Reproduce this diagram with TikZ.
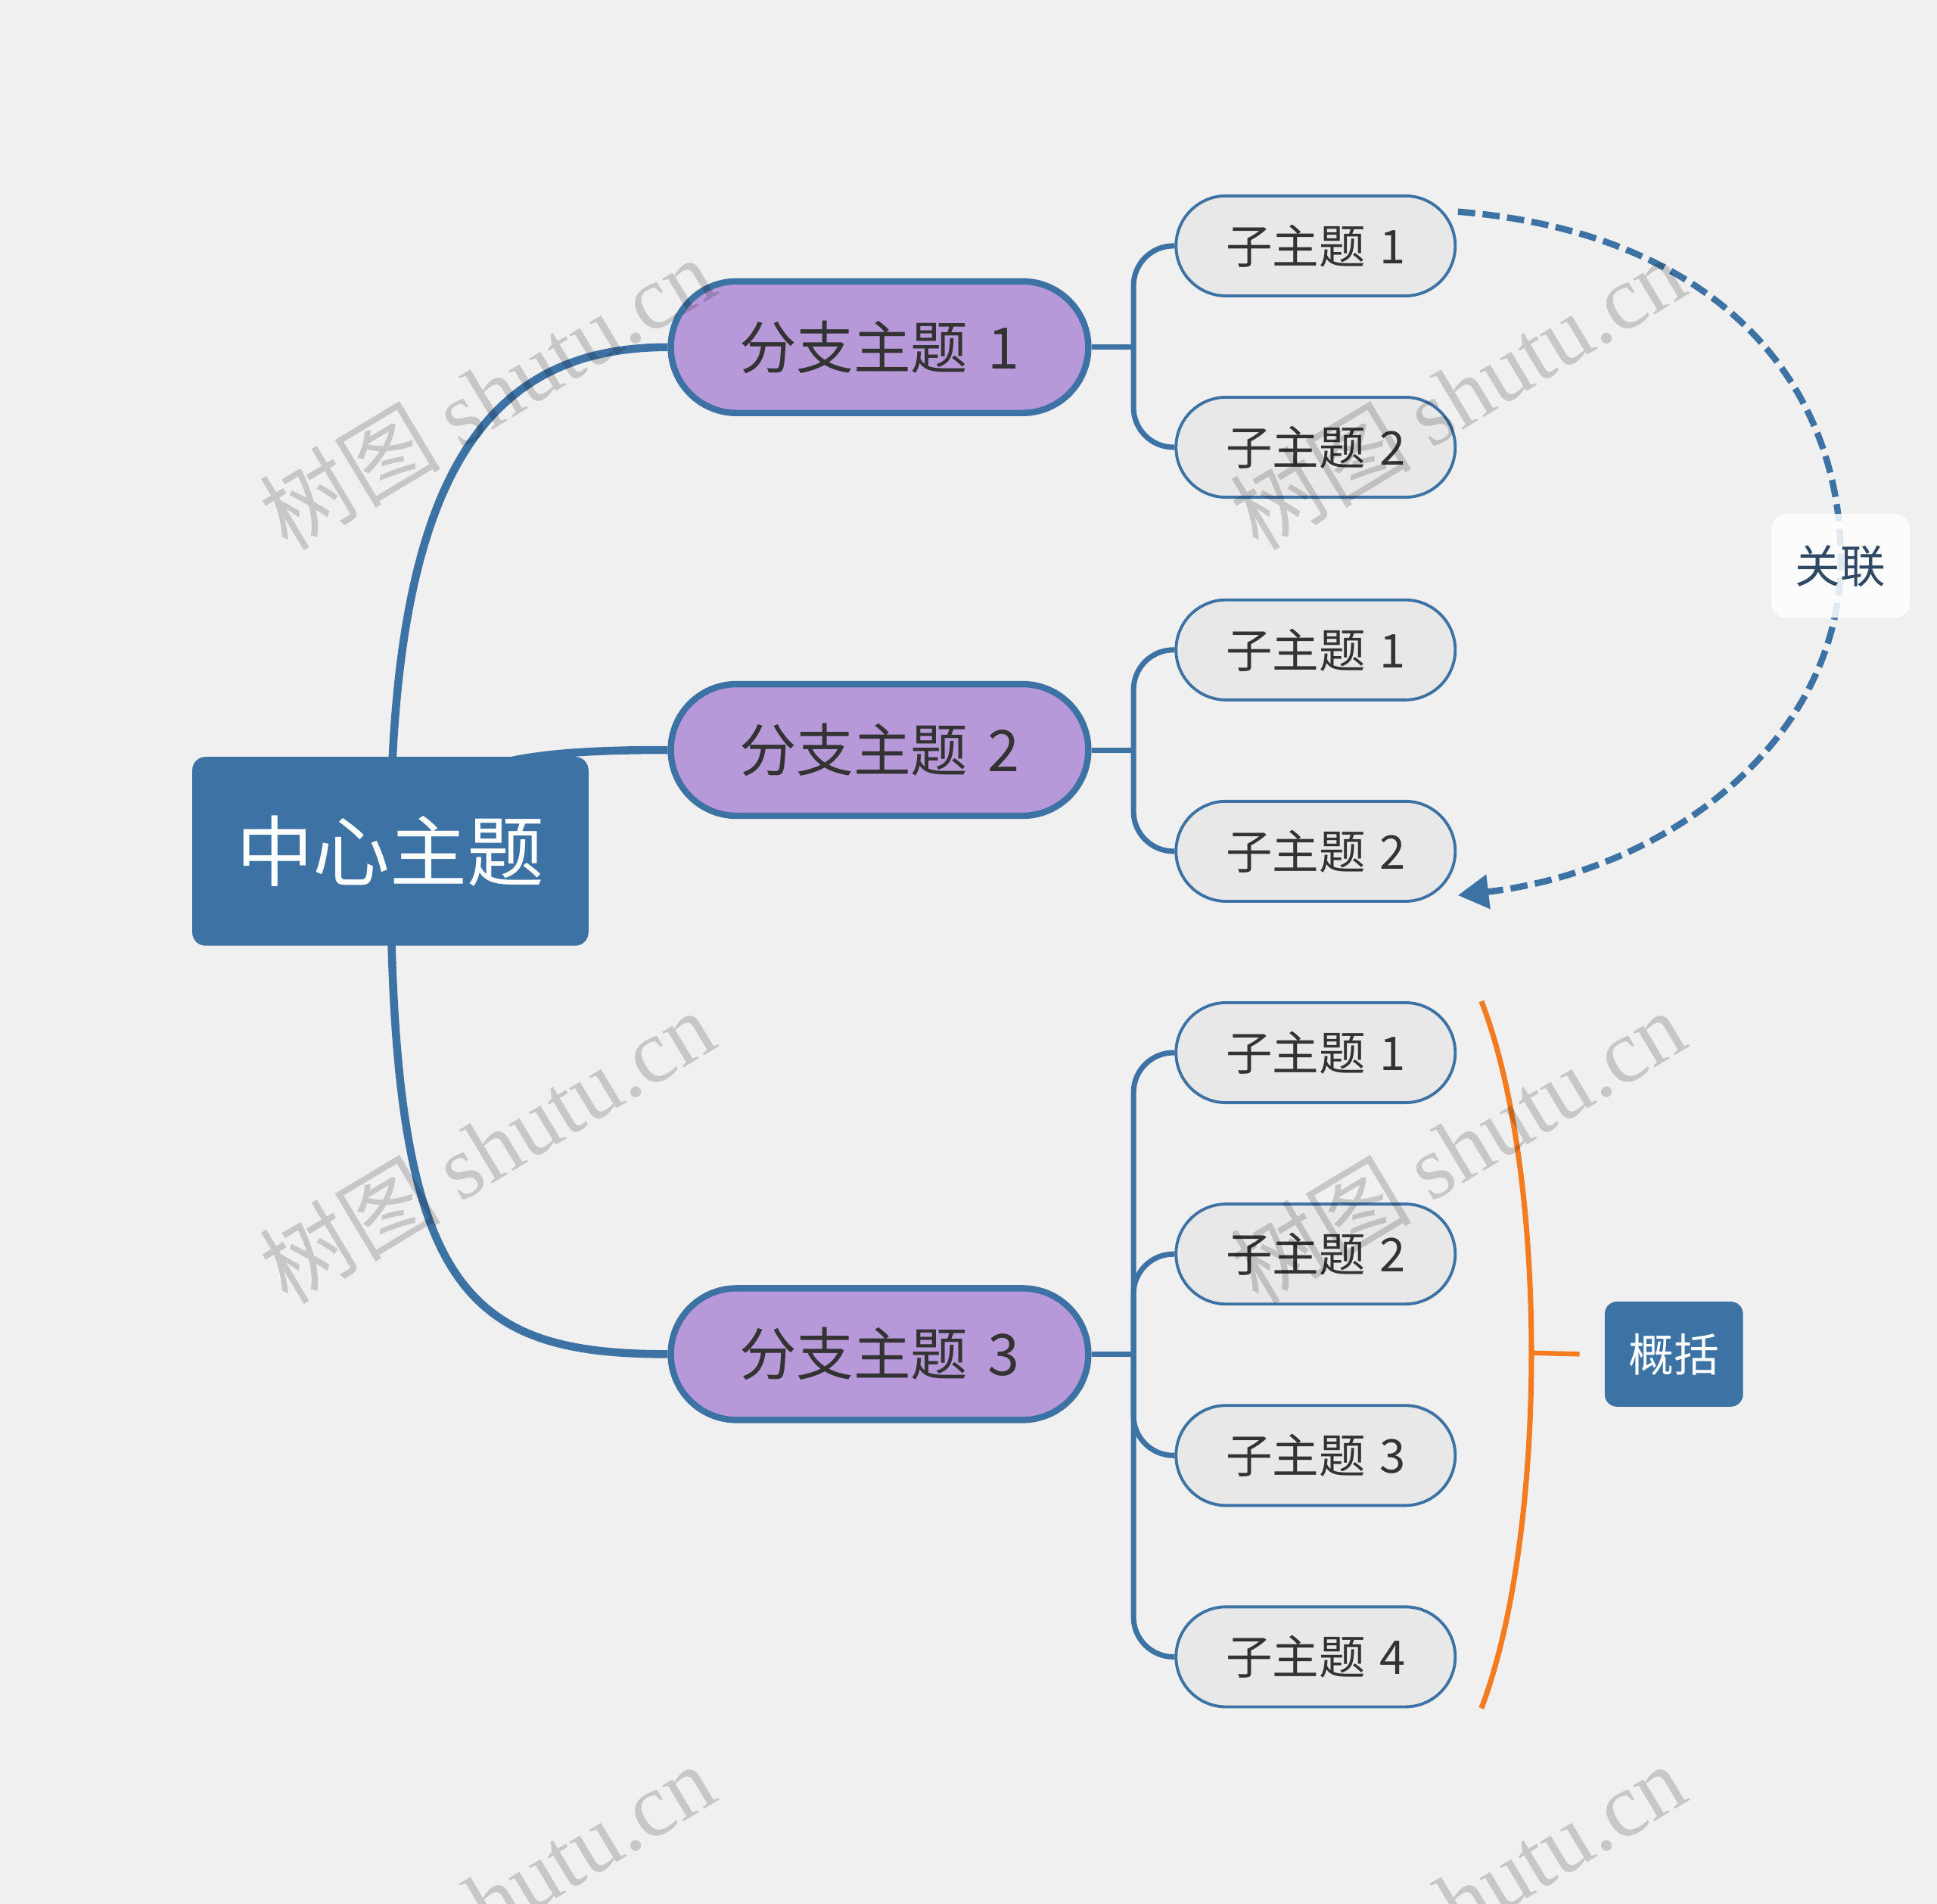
\documentclass[tikz,border=0pt]{standalone}
\usepackage{fontspec}
\setmainfont{Noto Sans CJK SC}
\newfontfamily\wmlat{Liberation Serif}
\usetikzlibrary{shapes.misc,arrows.meta,calc}
\definecolor{bgc}{HTML}{F0F0F0}
\definecolor{mblue}{HTML}{3D72A4}
\definecolor{purp}{HTML}{B798D9}
\definecolor{subf}{HTML}{E8E8E8}
\definecolor{txt}{HTML}{333333}
\definecolor{orng}{HTML}{F47B20}
\definecolor{reltxt}{HTML}{2F4863}
\pgfdeclarelayer{back}
\pgfdeclarelayer{bg}
\pgfsetlayers{back,bg,main}
\begin{document}
\begin{tikzpicture}[x=0.016327cm, y=-0.016327cm,
  centerbox/.style={fill=mblue, rounded corners=5pt, minimum width=149pt, minimum height=71pt, text=white, font=\fontsize{29}{34}\selectfont, inner sep=0pt},
  branchbox/.style={rounded rectangle, draw=mblue, line width=2.4pt, fill=purp, minimum width=157pt, minimum height=49.5pt, text=txt, font=\fontsize{21.5}{26}\selectfont, inner sep=0pt},
  subbox/.style={rounded rectangle, draw=mblue, line width=1.1pt, fill=subf, minimum width=105pt, minimum height=37.6pt, text=txt, font=\fontsize{17.5}{21}\selectfont, inner sep=0pt},
  relbox/.style={fill=white, fill opacity=0.85, text opacity=1, rounded corners=5.5pt, minimum width=52pt, minimum height=39pt, text=reltxt, font=\fontsize{17}{20}\selectfont, inner sep=0pt},
  sumbox/.style={fill=mblue, rounded corners=4.6pt, minimum width=52pt, minimum height=39.5pt, text=white, font=\fontsize{17}{20}\selectfont, inner sep=0pt},
  mainline/.style={draw=mblue, line width=3pt},
  subline/.style={draw=mblue, line width=2pt},
  relline/.style={draw=mblue, line width=2.4pt, dash pattern=on 6.5pt off 2.8pt, -{Triangle[length=11.5pt,width=12.5pt]}},
  brkline/.style={draw=orng, line width=2pt},
  wm/.style={text=black, text opacity=0.17, rotate=31, font=\fontsize{34}{38}\selectfont, inner sep=0pt}
]
% background
\begin{pgfonlayer}{back}
\fill[bgc] (0,0) rectangle (1568,1541);
\end{pgfonlayer}
\useasboundingbox (0,0) rectangle (1568,1541);

% nodes
\node[centerbox] (c) at (316,689) {中心主题};
\node[branchbox] (b1) at (712,281) {分支主题\hspace{0.35em}1};
\node[branchbox] (b2) at (712,607) {分支主题\hspace{0.35em}2};
\node[branchbox] (b3) at (712,1096) {分支主题\hspace{0.35em}3};

\node[subbox] (s11) at (1065,199) {子主题\hspace{0.3em}1};
\node[subbox] (s12) at (1065,362) {子主题\hspace{0.3em}2};
\node[subbox] (s21) at (1065,526) {子主题\hspace{0.3em}1};
\node[subbox] (s22) at (1065,689) {子主题\hspace{0.3em}2};
\node[subbox] (s31) at (1065,852) {子主题\hspace{0.3em}1};
\node[subbox] (s32) at (1065,1015) {子主题\hspace{0.3em}2};
\node[subbox] (s33) at (1065,1178) {子主题\hspace{0.3em}3};
\node[subbox] (s34) at (1065,1341) {子主题\hspace{0.3em}4};

\node[sumbox] (summ) at (1355,1096) {概括};

% connectors behind nodes
\begin{pgfonlayer}{bg}
\draw[mainline] (c.center) .. controls +(0,-300) and +(-150,0) .. (b1.west);
\draw[mainline] (c.center) .. controls +(30,-70) and +(-130,0) .. (b2.west);
\draw[mainline] (c.center) .. controls +(0,350) and +(-170,0) .. (b3.west);

\coordinate (j1) at ($(b1.east)+(34,0)$);
\coordinate (j2) at ($(b2.east)+(34,0)$);
\coordinate (j3) at ($(b3.east)+(34,0)$);
\draw[subline] (b1.east) -- (j1);
\draw[subline] (b2.east) -- (j2);
\draw[subline] (b3.east) -- (j3);
\foreach \s in {s11,s12} \draw[subline, rounded corners=15pt] (j1) |- (\s.west);
\foreach \s in {s21,s22} \draw[subline, rounded corners=15pt] (j2) |- (\s.west);
\foreach \s in {s31,s32,s33,s34} \draw[subline, rounded corners=15pt] (j3) |- (\s.west);
\end{pgfonlayer}

% summary bracket
\draw[brkline] ($(s31.east |- s31.north)+(20,0)$) .. controls +(54,139) and +(54,-143) .. coordinate[pos=0.5] (bm) ($(s34.east |- s34.south)+(20,0)$);
\draw[draw=orng, line width=1.8pt] (bm) -- ($(summ.west)+(-20,0)$);

% relationship
\coordinate (rs) at ($(s11.east |- s11.north)+(1,14)$);
\coordinate (re) at ($(s22.east |- s22.south)+(1,-6)$);
\coordinate (rm) at (1490,458);
\draw[relline] (rs) .. controls +(220,18) and +(3,-138) .. (rm) .. controls +(-3,142) and +(170,-20) .. (re);
\node[relbox] (rel) at (rm) {关联};

% watermarks
\foreach \p in {(394,318),(1180,318),(394,928),(1180,928),(394,1538),(1180,1538)}
  \node[wm] at \p {树图 {\wmlat shutu.cn}};
\end{tikzpicture}
\end{document}
